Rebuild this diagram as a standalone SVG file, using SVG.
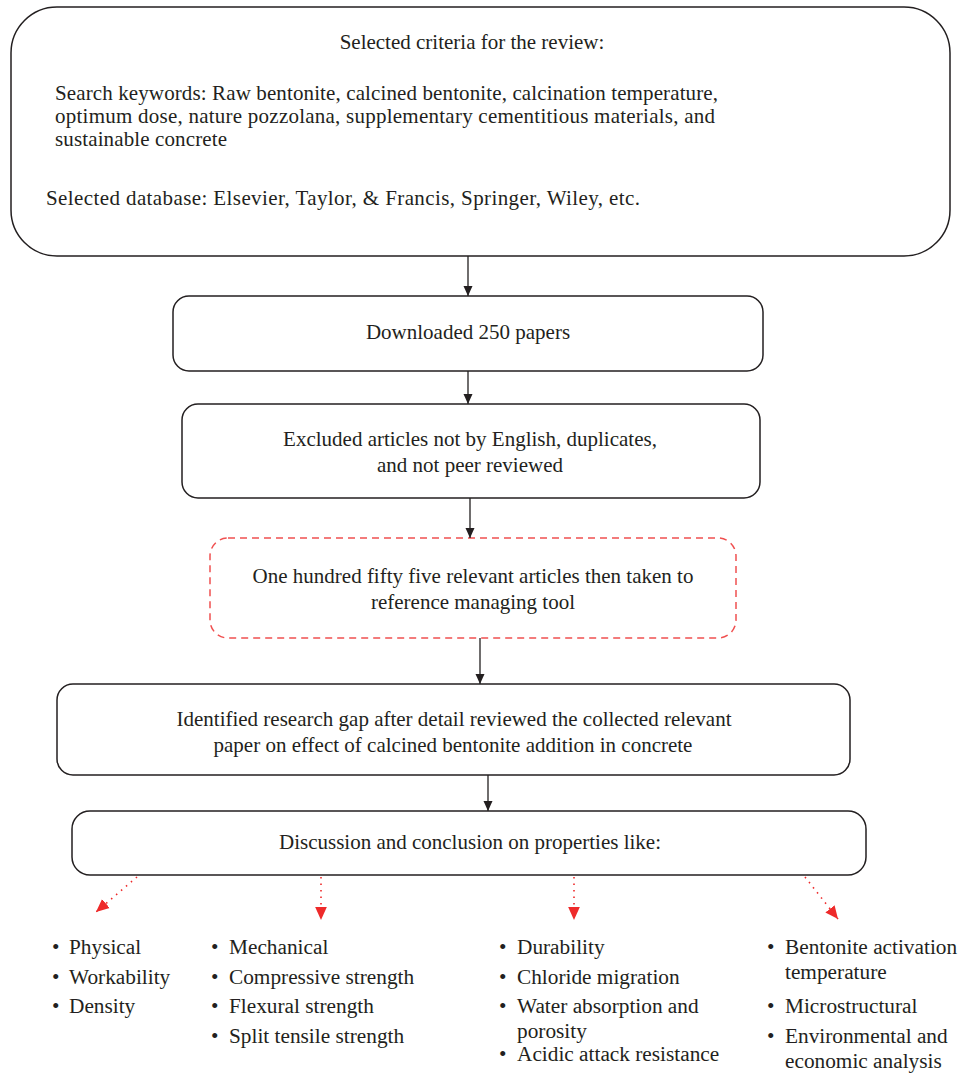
<svg xmlns="http://www.w3.org/2000/svg" width="960" height="1075" viewBox="0 0 960 1075">
<defs>
<marker id="ah" viewBox="0 0 10 10" refX="10" refY="5" markerWidth="10" markerHeight="10" markerUnits="userSpaceOnUse" orient="auto">
<path d="M0,0.5 L10,5 L0,9.5 Z" fill="#231f20"/>
</marker>
<marker id="rah" viewBox="0 0 10 10" refX="10" refY="5" markerWidth="13" markerHeight="13" markerUnits="userSpaceOnUse" orient="auto">
<path d="M0,0.5 L10,5 L0,9.5 Z" fill="#ee2a2a"/>
</marker>
</defs>
<style>
.box{fill:#fff;stroke:#231f20;stroke-width:1.5}
.dbox{fill:#fff;stroke:#f05050;stroke-width:1.5;stroke-dasharray:7 5}
.t{font-family:"Liberation Serif","Times New Roman",serif;font-size:21px;fill:#231f20}
.c{text-anchor:middle}
.b{font-family:"Liberation Serif","Times New Roman",serif;font-size:21.3px;fill:#231f20}
.con{stroke:#231f20;stroke-width:1.3;fill:none}
.rcon{stroke:#ee2a2a;stroke-width:1.6;fill:none;stroke-dasharray:1.5 5}
</style>
<rect width="960" height="1075" fill="#fff"/>

<g id="criteria">
<rect class="box" x="11" y="7" width="939" height="249" rx="46" ry="46"/>
<text class="t c" x="472" y="49">Selected criteria for the review:</text>
<text class="t" x="55" y="100" textLength="663">Search keywords: Raw bentonite, calcined bentonite, calcination temperature,</text>
<text class="t" x="55" y="123" textLength="660">optimum dose, nature pozzolana, supplementary cementitious materials, and</text>
<text class="t" x="55" y="146" textLength="172">sustainable concrete</text>
<text class="t" x="46" y="205" textLength="594">Selected database: Elsevier, Taylor, &amp; Francis, Springer, Wiley, etc.</text>
</g>

<g id="downloaded">
<rect class="box" x="173" y="296" width="590" height="75" rx="16" ry="16"/>
<text class="t c" x="468" y="339">Downloaded 250 papers</text>
</g>

<g id="excluded">
<rect class="box" x="182" y="404" width="578" height="94" rx="16" ry="16"/>
<text class="t c" x="470" y="446">Excluded articles not by English, duplicates,</text>
<text class="t c" x="470" y="472">and not peer reviewed</text>
</g>

<g id="relevant">
<rect class="dbox" x="210" y="538" width="526" height="100" rx="18" ry="18"/>
<text class="t c" x="473" y="583">One hundred fifty five relevant articles then taken to</text>
<text class="t c" x="473" y="609">reference managing tool</text>
</g>

<g id="gap">
<rect class="box" x="57" y="684" width="793" height="91" rx="16" ry="16"/>
<text class="t c" x="454" y="726">Identified research gap after detail reviewed the collected relevant</text>
<text class="t c" x="453" y="752">paper on effect of calcined bentonite addition in concrete</text>
</g>

<g id="discussion">
<rect class="box" x="72" y="811" width="794" height="64" rx="18" ry="18"/>
<text class="t c" x="470" y="849">Discussion and conclusion on properties like:</text>
</g>

<g id="connectors">
<line class="con" x1="468" y1="256" x2="468" y2="296" marker-end="url(#ah)"/>
<line class="con" x1="468" y1="371" x2="468" y2="404" marker-end="url(#ah)"/>
<line class="con" x1="470" y1="498" x2="470" y2="538" marker-end="url(#ah)"/>
<line class="con" x1="480" y1="638" x2="480" y2="684" marker-end="url(#ah)"/>
<line class="con" x1="488" y1="775" x2="488" y2="811" marker-end="url(#ah)"/>
<line class="rcon" x1="137" y1="877" x2="96" y2="912" marker-end="url(#rah)"/>
<line class="rcon" x1="321" y1="877" x2="321" y2="920" marker-end="url(#rah)"/>
<line class="rcon" x1="574" y1="877" x2="574" y2="920" marker-end="url(#rah)"/>
<line class="rcon" x1="805" y1="877" x2="838" y2="919" marker-end="url(#rah)"/>
</g>

<g id="list-physical">
<text class="b" x="52" y="954">•</text><text class="b" x="69" y="954">Physical</text>
<text class="b" x="52" y="984">•</text><text class="b" x="69" y="984">Workability</text>
<text class="b" x="52" y="1013">•</text><text class="b" x="69" y="1013">Density</text>
</g>

<g id="list-mechanical">
<text class="b" x="211" y="954">•</text><text class="b" x="229" y="954">Mechanical</text>
<text class="b" x="211" y="984">•</text><text class="b" x="229" y="984">Compressive strength</text>
<text class="b" x="211" y="1013">•</text><text class="b" x="229" y="1013">Flexural strength</text>
<text class="b" x="211" y="1043">•</text><text class="b" x="229" y="1043">Split tensile strength</text>
</g>

<g id="list-durability">
<text class="b" x="499" y="954">•</text><text class="b" x="517" y="954">Durability</text>
<text class="b" x="499" y="984">•</text><text class="b" x="517" y="984">Chloride migration</text>
<text class="b" x="499" y="1013">•</text><text class="b" x="517" y="1013">Water absorption and</text>
<text class="b" x="517" y="1038">porosity</text>
<text class="b" x="499" y="1061">•</text><text class="b" x="517" y="1061">Acidic attack resistance</text>
</g>

<g id="list-other">
<text class="b" x="767" y="954">•</text><text class="b" x="785" y="954">Bentonite activation</text>
<text class="b" x="785" y="979">temperature</text>
<text class="b" x="767" y="1013">•</text><text class="b" x="785" y="1013">Microstructural</text>
<text class="b" x="767" y="1043">•</text><text class="b" x="785" y="1043">Environmental and</text>
<text class="b" x="785" y="1068">economic analysis</text>
</g>
</svg>
